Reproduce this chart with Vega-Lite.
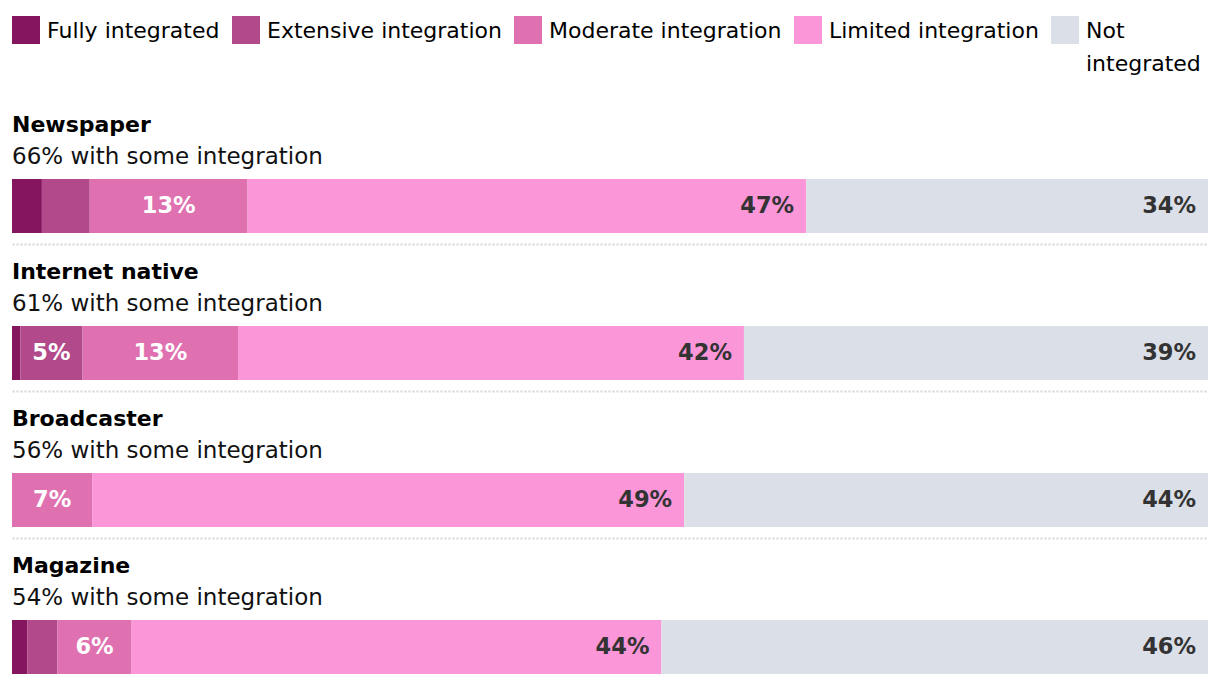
{
  "$schema": "https://vega.github.io/schema/vega-lite/v6.json",
  "background": "white",
  "padding": {"left": 12, "right": 12, "top": 16, "bottom": 0},
  "data": {"values": [
    {"media": "Newspaper", "level": "Fully integrated", "value": 2.5, "label": ""},
    {"media": "Newspaper", "level": "Extensive integration", "value": 4.0, "label": ""},
    {"media": "Newspaper", "level": "Moderate integration", "value": 13.2, "label": "13%"},
    {"media": "Newspaper", "level": "Limited integration", "value": 46.7, "label": "47%"},
    {"media": "Newspaper", "level": "Not integrated", "value": 33.6, "label": "34%"},
    {"media": "Internet native", "level": "Fully integrated", "value": 0.7, "label": ""},
    {"media": "Internet native", "level": "Extensive integration", "value": 5.2, "label": "5%"},
    {"media": "Internet native", "level": "Moderate integration", "value": 13.0, "label": "13%"},
    {"media": "Internet native", "level": "Limited integration", "value": 42.3, "label": "42%"},
    {"media": "Internet native", "level": "Not integrated", "value": 38.8, "label": "39%"},
    {"media": "Broadcaster", "level": "Fully integrated", "value": 0, "label": ""},
    {"media": "Broadcaster", "level": "Extensive integration", "value": 0, "label": ""},
    {"media": "Broadcaster", "level": "Moderate integration", "value": 6.7, "label": "7%"},
    {"media": "Broadcaster", "level": "Limited integration", "value": 49.5, "label": "49%"},
    {"media": "Broadcaster", "level": "Not integrated", "value": 43.8, "label": "44%"},
    {"media": "Magazine", "level": "Fully integrated", "value": 1.3, "label": ""},
    {"media": "Magazine", "level": "Extensive integration", "value": 2.5, "label": ""},
    {"media": "Magazine", "level": "Moderate integration", "value": 6.2, "label": "6%"},
    {"media": "Magazine", "level": "Limited integration", "value": 44.3, "label": "44%"},
    {"media": "Magazine", "level": "Not integrated", "value": 45.7, "label": "46%"}
  ]},
  "transform": [
    {"calculate": "indexof(['Fully integrated','Extensive integration','Moderate integration','Limited integration','Not integrated'], datum.level)", "as": "ord"},
    {"stack": "value", "groupby": ["media"], "sort": [{"field": "ord", "order": "ascending"}], "as": ["x0", "x1"]},
    {"calculate": "(datum.x0 + datum.x1) / 2", "as": "mid"}
  ],
  "config": {
    "font": "DejaVu Sans",
    "view": {"stroke": null},
    "title": {"anchor": "start", "font": "DejaVu Sans", "fontSize": 22, "fontWeight": "bold", "color": "#000000", "subtitleFont": "DejaVu Sans", "subtitleFontSize": 23, "subtitleColor": "#111111", "subtitlePadding": 9, "offset": 9},
    "concat": {"spacing": 17},
    "legend": {
      "orient": "top", "direction": "horizontal", "title": null,
      "symbolType": "square", "symbolSize": 784, "symbolStrokeWidth": 0, "symbolOpacity": 1,
      "labelFont": "DejaVu Sans", "labelFontSize": 22, "labelColor": "#000000", "labelOffset": 7,
      "labelLimit": 400, "columnPadding": 12, "padding": 0, "offset": 39,
      "labelBaseline": "alphabetic"
    }
  },
  "resolve": {"scale": {"color": "shared"}, "legend": {"color": "shared"}},
  "vconcat": [
    {
      "width": 1196, "height": 54,
      "title": {"text": "Newspaper", "subtitle": "66% with some integration"},
      "transform": [{"filter": "datum.media === 'Newspaper'"}],
      "encoding": {"y": {"field": "media", "type": "nominal", "axis": null, "scale": {"paddingInner": 0, "paddingOuter": 0}}},
      "layer": [
        {"mark": {"type": "bar"}, "encoding": {
          "x": {"field": "x0", "type": "quantitative", "scale": {"domain": [0, 100], "nice": false}, "axis": {"domain": true, "domainDash": [2, 2], "domainColor": "#d6d6d6", "domainWidth": 2, "ticks": false, "labels": false, "grid": false, "title": null, "offset": 11}},
          "x2": {"field": "x1"},
          "color": {"field": "level", "type": "nominal", "scale": {"domain": ["Fully integrated", "Extensive integration", "Moderate integration", "Limited integration", "Not integrated"], "range": ["#85155e", "#b2498a", "#df71b1", "#fb96d8", "#dbdfe7"]}, "legend": {"labelExpr": "datum.label === 'Not integrated' ? ['Not', 'integrated'] : [datum.label, ' ']", "encode": {"labels": {"update": {"dy": {"value": 8}, "lineHeight": {"value": 33}}}}}}
        }},
        {"transform": [{"filter": "datum.label != '' && (datum.ord < 3)"}], "mark": {"type": "text", "align": "center", "baseline": "middle", "font": "DejaVu Sans", "fontWeight": "bold", "fontSize": 22.5, "color": "#ffffff"}, "encoding": {"x": {"field": "mid", "type": "quantitative"}, "text": {"field": "label"}}},
        {"transform": [{"filter": "datum.label != '' && (datum.ord >= 3)"}], "mark": {"type": "text", "align": "right", "baseline": "middle", "dx": -12, "font": "DejaVu Sans", "fontWeight": "bold", "fontSize": 22.5, "color": "#333333"}, "encoding": {"x": {"field": "x1", "type": "quantitative"}, "text": {"field": "label"}}}
      ]
    },
    {
      "width": 1196, "height": 54,
      "title": {"text": "Internet native", "subtitle": "61% with some integration"},
      "transform": [{"filter": "datum.media === 'Internet native'"}],
      "encoding": {"y": {"field": "media", "type": "nominal", "axis": null, "scale": {"paddingInner": 0, "paddingOuter": 0}}},
      "layer": [
        {"mark": {"type": "bar"}, "encoding": {
          "x": {"field": "x0", "type": "quantitative", "scale": {"domain": [0, 100], "nice": false}, "axis": {"domain": true, "domainDash": [2, 2], "domainColor": "#d6d6d6", "domainWidth": 2, "ticks": false, "labels": false, "grid": false, "title": null, "offset": 11}},
          "x2": {"field": "x1"},
          "color": {"field": "level", "type": "nominal", "scale": {"domain": ["Fully integrated", "Extensive integration", "Moderate integration", "Limited integration", "Not integrated"], "range": ["#85155e", "#b2498a", "#df71b1", "#fb96d8", "#dbdfe7"]}}
        }},
        {"transform": [{"filter": "datum.label != '' && (datum.ord < 3)"}], "mark": {"type": "text", "align": "center", "baseline": "middle", "font": "DejaVu Sans", "fontWeight": "bold", "fontSize": 22.5, "color": "#ffffff"}, "encoding": {"x": {"field": "mid", "type": "quantitative"}, "text": {"field": "label"}}},
        {"transform": [{"filter": "datum.label != '' && (datum.ord >= 3)"}], "mark": {"type": "text", "align": "right", "baseline": "middle", "dx": -12, "font": "DejaVu Sans", "fontWeight": "bold", "fontSize": 22.5, "color": "#333333"}, "encoding": {"x": {"field": "x1", "type": "quantitative"}, "text": {"field": "label"}}}
      ]
    },
    {
      "width": 1196, "height": 54,
      "title": {"text": "Broadcaster", "subtitle": "56% with some integration"},
      "transform": [{"filter": "datum.media === 'Broadcaster'"}],
      "encoding": {"y": {"field": "media", "type": "nominal", "axis": null, "scale": {"paddingInner": 0, "paddingOuter": 0}}},
      "layer": [
        {"mark": {"type": "bar"}, "encoding": {
          "x": {"field": "x0", "type": "quantitative", "scale": {"domain": [0, 100], "nice": false}, "axis": {"domain": true, "domainDash": [2, 2], "domainColor": "#d6d6d6", "domainWidth": 2, "ticks": false, "labels": false, "grid": false, "title": null, "offset": 11}},
          "x2": {"field": "x1"},
          "color": {"field": "level", "type": "nominal", "scale": {"domain": ["Fully integrated", "Extensive integration", "Moderate integration", "Limited integration", "Not integrated"], "range": ["#85155e", "#b2498a", "#df71b1", "#fb96d8", "#dbdfe7"]}}
        }},
        {"transform": [{"filter": "datum.label != '' && (datum.ord < 3)"}], "mark": {"type": "text", "align": "center", "baseline": "middle", "font": "DejaVu Sans", "fontWeight": "bold", "fontSize": 22.5, "color": "#ffffff"}, "encoding": {"x": {"field": "mid", "type": "quantitative"}, "text": {"field": "label"}}},
        {"transform": [{"filter": "datum.label != '' && (datum.ord >= 3)"}], "mark": {"type": "text", "align": "right", "baseline": "middle", "dx": -12, "font": "DejaVu Sans", "fontWeight": "bold", "fontSize": 22.5, "color": "#333333"}, "encoding": {"x": {"field": "x1", "type": "quantitative"}, "text": {"field": "label"}}}
      ]
    },
    {
      "width": 1196, "height": 54,
      "title": {"text": "Magazine", "subtitle": "54% with some integration"},
      "transform": [{"filter": "datum.media === 'Magazine'"}],
      "encoding": {"y": {"field": "media", "type": "nominal", "axis": null, "scale": {"paddingInner": 0, "paddingOuter": 0}}},
      "layer": [
        {"mark": {"type": "bar"}, "encoding": {
          "x": {"field": "x0", "type": "quantitative", "scale": {"domain": [0, 100], "nice": false}, "axis": null},
          "x2": {"field": "x1"},
          "color": {"field": "level", "type": "nominal", "scale": {"domain": ["Fully integrated", "Extensive integration", "Moderate integration", "Limited integration", "Not integrated"], "range": ["#85155e", "#b2498a", "#df71b1", "#fb96d8", "#dbdfe7"]}}
        }},
        {"transform": [{"filter": "datum.label != '' && (datum.ord < 3)"}], "mark": {"type": "text", "align": "center", "baseline": "middle", "font": "DejaVu Sans", "fontWeight": "bold", "fontSize": 22.5, "color": "#ffffff"}, "encoding": {"x": {"field": "mid", "type": "quantitative"}, "text": {"field": "label"}}},
        {"transform": [{"filter": "datum.label != '' && (datum.ord >= 3)"}], "mark": {"type": "text", "align": "right", "baseline": "middle", "dx": -12, "font": "DejaVu Sans", "fontWeight": "bold", "fontSize": 22.5, "color": "#333333"}, "encoding": {"x": {"field": "x1", "type": "quantitative"}, "text": {"field": "label"}}}
      ]
    }
  ]
}
